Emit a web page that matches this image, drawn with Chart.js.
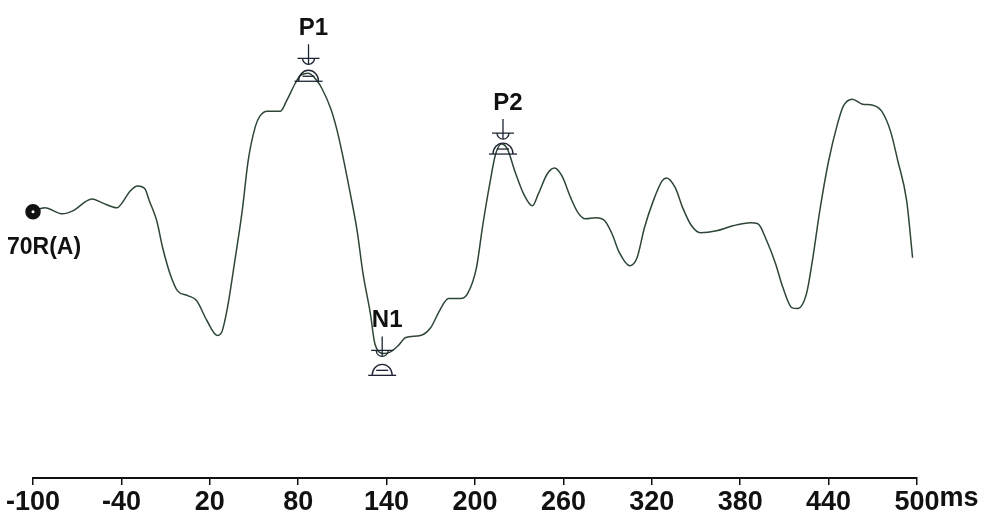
<!DOCTYPE html>
<html>
<head>
<meta charset="utf-8">
<script src="https://cdn.jsdelivr.net/npm/chart.js@4.4.1/dist/chart.umd.min.js"></script>
<style>
html,body{margin:0;padding:0;background:#fff;}
#wrap{width:989px;height:520px;position:relative;}
</style>
</head>
<body>
<div id="wrap"><canvas id="c" width="989" height="520"></canvas></div>
<script>
// Waveform: latency (ms) and amplitude (arbitrary units)
const latency = [-100,-92,-80,-73,-60,-53,-43,-40,-34,-29,-24,-21,-16,-12,-7,-2,5,11,18,25,28,32,37,42,46,51,54,59,68,72,78,81,87,93,96,102,106,110,115,120,124,129,132,138,142,148,153,163,170,176,182,190,195,201,205,210,214,218,222,227,233,239,243,249,254,259,265,270,275,282,288,293,298,305,310,315,321,327,330,336,341,347,353,364,375,387,392,398,404,409,415,419,425,429,434,440,446,450,456,463,470,476,482,487,493,497];
const amplitude = [0.05,0.25,-0.05,0.1,0.7,0.5,0.25,0.45,1.1,1.35,1.2,0.6,-0.4,-1.75,-3.05,-3.9,-4.15,-4.4,-5.4,-6.15,-6.0,-4.75,-2.4,0.1,2.6,4.35,4.85,5.1,5.1,5.6,6.5,6.85,7.0,6.6,6.25,5.25,4.25,2.95,1.1,-0.9,-3.05,-5.05,-6.55,-7.05,-7.0,-6.65,-6.25,-6.15,-5.75,-4.9,-4.3,-4.3,-4.05,-2.75,-0.75,1.45,2.95,3.45,3.2,2.1,0.95,0.35,0.95,1.95,2.25,1.85,0.75,0,-0.3,-0.25,-0.4,-1.05,-2.0,-2.65,-2.25,-0.75,0.6,1.6,1.75,1.25,0.25,-0.65,-1.0,-0.9,-0.65,-0.5,-0.55,-1.4,-2.55,-3.75,-4.75,-4.8,-4.05,-2.4,0.1,2.6,4.45,5.35,5.7,5.45,5.4,5.1,4.1,2.6,0.6,-2.25];

// Axis ticks
const tickValues = [-100,-40,20,80,140,200,260,320,380,440,500];
const unitLabel = 'ms';
const traceLabel = '70R(A)';

// Peak markers
const peakNames = ['P1','N1','P2'];
const peakLatency = [87,137,219];
const peakCursor = [7.75,-6.9,4.0];
const peakBase = [6.6,-8.15,2.95];

const points = latency.map((t,i)=>({x:t,y:amplitude[i]}));

const overlay = {
  id:'overlay',
  afterDatasetsDraw(chart){
    const ctx = chart.ctx, xs = chart.scales.x, ys = chart.scales.y;
    ctx.save();
    // start dot centre
    const x0 = xs.getPixelForValue(latency[0]), y0 = ys.getPixelForValue(amplitude[0]);
    ctx.fillStyle = '#fff';
    ctx.beginPath(); ctx.arc(x0,y0,1.5,0,Math.PI*2); ctx.fill();
    ctx.fillStyle = '#111';
    ctx.font = 'bold 23px "Liberation Sans", Arial, sans-serif';
    ctx.textAlign = 'left'; ctx.textBaseline = 'alphabetic';
    ctx.fillText(traceLabel, 7, 254);
    // markers
    ctx.strokeStyle = '#1c2433';
    ctx.lineWidth = 1.3;
    for (let i=0;i<peakNames.length;i++){
      const x = xs.getPixelForValue(peakLatency[i]);
      const yb = ys.getPixelForValue(peakCursor[i]);
      const yd = ys.getPixelForValue(peakBase[i]);
      ctx.beginPath();
      ctx.moveTo(x, yb-14); ctx.lineTo(x, yb+6);
      ctx.moveTo(x-11, yb); ctx.lineTo(x+11, yb);
      ctx.stroke();
      ctx.beginPath(); ctx.arc(x, yb, 6, 0, Math.PI); ctx.stroke();
      ctx.beginPath();
      ctx.moveTo(x-14, yd); ctx.lineTo(x+14, yd);
      ctx.stroke();
      ctx.beginPath(); ctx.ellipse(x, yd, 10, 11, 0, Math.PI, 2*Math.PI); ctx.stroke();
      ctx.beginPath(); ctx.moveTo(x-6, yd-5); ctx.lineTo(x+6, yd-5); ctx.stroke();
      ctx.fillStyle = '#111';
      ctx.font = 'bold 24px "Liberation Sans", Arial, sans-serif';
      ctx.textAlign = 'center';
      ctx.fillText(peakNames[i], x+5, yb-23);
    }
    // unit after last tick
    const xl = xs.getPixelForValue(tickValues[tickValues.length-1]);
    ctx.font = 'bold 27px "Liberation Sans", Arial, sans-serif';
    const w = ctx.measureText(String(tickValues[tickValues.length-1])).width;
    ctx.textAlign = 'left'; ctx.textBaseline = 'middle';
    ctx.fillStyle = '#111';
    ctx.fillText(unitLabel, xl + w/2, 499);
    ctx.restore();
  }
};

new Chart(document.getElementById('c'), {
  type:'line',
  data:{datasets:[{
    data:points,
    borderColor:'#2e4636',
    borderWidth:1.5,
    fill:false,
    tension:0.4,
    cubicInterpolationMode:'monotone',
    pointRadius:ctx=>ctx.dataIndex===0?7:0,
    pointBackgroundColor:'#111',
    pointBorderColor:'#111',
    pointHoverRadius:0
  }]},
  options:{
    responsive:false,
    animation:false,
    events:[],
    clip:false,
    layout:{padding:{left:33,right:72,top:0,bottom:0}},
    plugins:{legend:{display:false},tooltip:{enabled:false}},
    scales:{
      x:{
        type:'linear',
        min:-100,max:500,
        afterBuildTicks:s=>{s.ticks = tickValues.map(v=>({value:v}));},
        afterFit:s=>{s.height = 42;},
        grid:{display:true,drawOnChartArea:false,drawTicks:true,tickLength:7,color:'#111',lineWidth:1.5},
        border:{display:true,color:'#111',width:2},
        ticks:{color:'#111',padding:1,maxRotation:0,autoSkip:false,
          font:{family:'"Liberation Sans", Arial, sans-serif',size:27,weight:'bold'}}
      },
      y:{display:false,min:-13.3,max:10.25}
    }
  },
  plugins:[overlay]
});
</script>
</body>
</html>
